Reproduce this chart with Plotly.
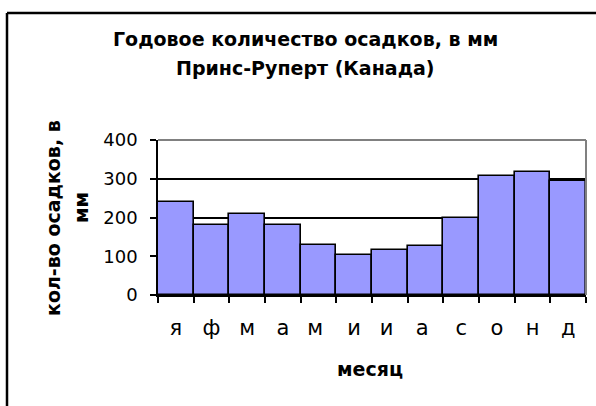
import plotly.graph_objects as go

months = ["я", "ф", "м", "а", "м ", "и", "и ", "а ", "с", "о", "н", "д"]
precip = [240, 180, 210, 180, 128, 103, 117, 127, 200, 307, 317, 293]
y_ticks = [0, 100, 200, 300, 400]

title_line1 = "Годовое количество осадков, в мм"
title_line2 = "Принс-Руперт (Канада)"
y_title_line1 = "кол-во осадков, в"
y_title_line2 = "мм"
x_title = "месяц"

W, H = 596, 406
L, R, T, B = 158, 10, 140, 111
pw, ph = W - L - R, H - T - B


def px(x):
    return (x - L) / pw


def py(y):
    return (H - B - y) / ph


fig = go.Figure()
fig.add_trace(go.Bar(
    x=months, y=precip,
    marker=dict(color="#9999FF", line=dict(color="black", width=1.6)),
    width=1.0,
))

font_reg = "DejaVu Sans"
font_bold = "DejaVu Sans"

fig.update_layout(
    width=W, height=H,
    margin=dict(l=L, r=R, t=T, b=B, autoexpand=False),
    paper_bgcolor="white", plot_bgcolor="white",
    showlegend=False,
    bargap=0,
    xaxis=dict(
        type="category", tickson="boundaries", ticks="outside", ticklen=6,
        tickwidth=1.5, tickcolor="black",
        showline=True, linecolor="black", linewidth=1.5,
        showgrid=False, zeroline=False,
        tickfont=dict(family=font_reg, size=21, color="black"),
        ticklabelstandoff=13,
        automargin=False,
    ),
    yaxis=dict(
        range=[0, 400], tickvals=y_ticks, ticks="outside", ticklen=6,
        tickwidth=1.5, tickcolor="black",
        showline=True, linecolor="black", linewidth=1.5,
        showgrid=True, gridcolor="black", gridwidth=1.5,
        zeroline=False,
        tickfont=dict(family=font_reg, size=18, color="black"),
        ticklabelstandoff=9,
        automargin=False,
    ),
)

# plot area border (grey top and right)
fig.add_shape(type="line", xref="paper", yref="paper", x0=0, x1=1, y0=1, y1=1,
              line=dict(color="#808080", width=2), layer="above")
fig.add_shape(type="line", xref="paper", yref="paper", x0=1, x1=1, y0=0, y1=1,
              line=dict(color="#808080", width=2), layer="above")

# chart area frame (left and top edges visible)
fig.add_shape(type="line", xref="paper", yref="paper",
              x0=px(7), x1=px(W), y0=py(13), y1=py(13),
              line=dict(color="black", width=2.5), layer="above")
fig.add_shape(type="line", xref="paper", yref="paper",
              x0=px(7), x1=px(7), y0=py(13), y1=py(H),
              line=dict(color="black", width=2.5), layer="above")

ann = dict(xref="paper", yref="paper", showarrow=False,
           xanchor="center", yanchor="middle")
fig.add_annotation(text=f"<b>{title_line1}</b>", x=px(305), y=py(39),
                   font=dict(family=font_bold, size=19, color="black"), **ann)
fig.add_annotation(text=f"<b>{title_line2}</b>", x=px(305), y=py(68),
                   font=dict(family=font_bold, size=19, color="black"), **ann)
fig.add_annotation(text=f"<b>{y_title_line1}</b>", x=px(53), y=py(218), textangle=-90,
                   font=dict(family=font_bold, size=19, color="black"), **ann)
fig.add_annotation(text=f"<b>{y_title_line2}</b>", x=px(81), y=py(208), textangle=-90,
                   font=dict(family=font_bold, size=19, color="black"), **ann)
fig.add_annotation(text=f"<b>{x_title}</b>", x=px(370), y=py(369),
                   font=dict(family=font_bold, size=19, color="black"), **ann)

fig.write_html("out.html", config={"displayModeBar": False},
               post_script="document.body.style.margin='0';")
